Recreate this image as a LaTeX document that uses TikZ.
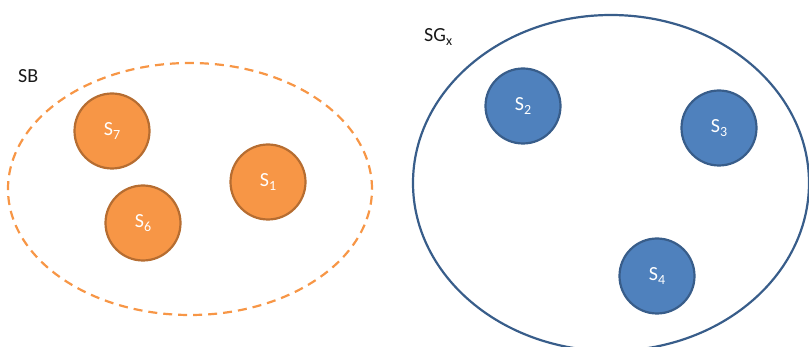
\documentclass[tikz,border=0pt]{standalone}
\usepackage{fontspec}
\setmainfont{Carlito}
\usetikzlibrary{positioning,shapes.geometric}
\definecolor{orfill}{HTML}{F79646}
\definecolor{ordraw}{HTML}{B66D31}
\definecolor{blfill}{HTML}{4F81BD}
\definecolor{bldraw}{HTML}{385D8A}
\newcommand{\lowidx}[1]{\raisebox{-0.45ex}{\fontsize{14}{16}\selectfont #1}}
\begin{document}
\begin{tikzpicture}[x=1pt,y=-1pt,
  every node/.style={inner sep=0pt},
  setlbl/.style={font=\fontsize{20}{24}\selectfont,text=black!90},
  snode/.style={circle,minimum size=75pt,line width=2.2pt,text=white,font=\fontsize{20}{24}\selectfont}]
  \useasboundingbox (0,0) rectangle (809,347);
  % multimi
  \node[ellipse,draw=orfill,dash pattern=on 9pt off 6pt,line width=2.2pt,
        minimum width=364pt,minimum height=252pt] (sb) at (190,189) {};
  \node[ellipse,draw=bldraw,line width=2.2pt,
        minimum width=396pt,minimum height=336pt] (sgx) at (611,183) {};
  \node[setlbl,anchor=west] (sblbl) at (18,76) {SB};
  \node[setlbl,anchor=west] (sgxlbl) at (424,37) {SG\lowidx{x}};
  % servere
  \foreach \n/\x/\y/\col in {7/112/131/or, 1/268/182/or, 6/143/223/or,
                              2/523/106/bl, 3/719/128/bl, 4/657/276/bl}{
    \node[snode,fill=\col fill,draw=\col draw] (s\n) at (\x,\y) {S\lowidx{\n}};
  }
\end{tikzpicture}
\end{document}
